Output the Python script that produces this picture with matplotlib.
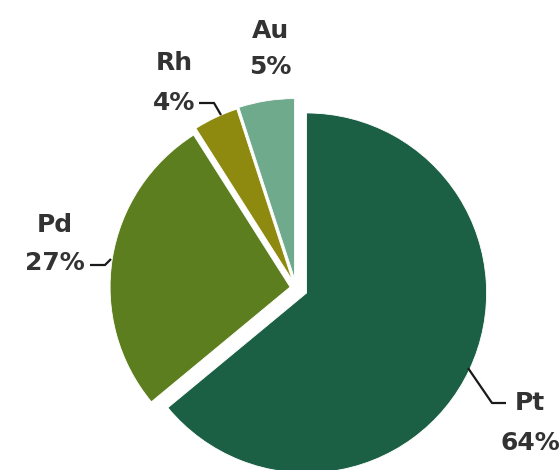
import matplotlib.pyplot as plt

# share of each metal, drawn clockwise from 12 o'clock
METALS = ["Pt", "Pd", "Rh", "Au"]
SHARES = [64, 27, 4, 5]
PCT_LABELS = ["64%", "27%", "4%", "5%"]

COLORS = ["#1b5f45", "#5d7e1f", "#8e8a10", "#6eaa8b"]
EXPLODE = [11.7, 6.0, 8.5, 9.5]  # pixels, axes is 1:1 with the image

W, H = 560, 470
fig = plt.figure(figsize=(W / 100, H / 100), dpi=100)
ax = fig.add_axes([0, 0, 1, 1])

ax.pie(SHARES, colors=COLORS, explode=EXPLODE, startangle=90, counterclock=False,
       radius=180, center=(296, H - 288),
       wedgeprops=dict(edgecolor="white", linewidth=0.6))
ax.set_xlim(0, W)
ax.set_ylim(0, H)
ax.set_aspect("auto")
ax.axis("off")

# label spots in image pixels (x centre, name baseline, pct baseline)
label_pos = {"Pt": (530, 410, 450), "Pd": (55, 232, 270),
             "Rh": (174, 70, 110), "Au": (270, 38, 74)}
txt = dict(ha="center", va="baseline", fontsize=18, fontweight="bold",
           color="#333333", family="DejaVu Sans")
for name, pct in zip(METALS, PCT_LABELS):
    x, y1, y2 = label_pos[name]
    ax.text(x, H - y1, name, **txt)
    ax.text(x, H - y2, pct, **txt)

# leader lines
leaders = [[(199, 103), (214, 103), (221, 115)],
           [(90, 265), (105, 265), (111, 259)],
           [(468, 368), (492, 403), (506, 403)]]
for pts in leaders:
    xs = [p[0] for p in pts]
    ys = [H - p[1] for p in pts]
    ax.plot(xs, ys, color="#1a1a1a", lw=1.6, solid_capstyle="butt")

fig.savefig("out.png", dpi=100)
